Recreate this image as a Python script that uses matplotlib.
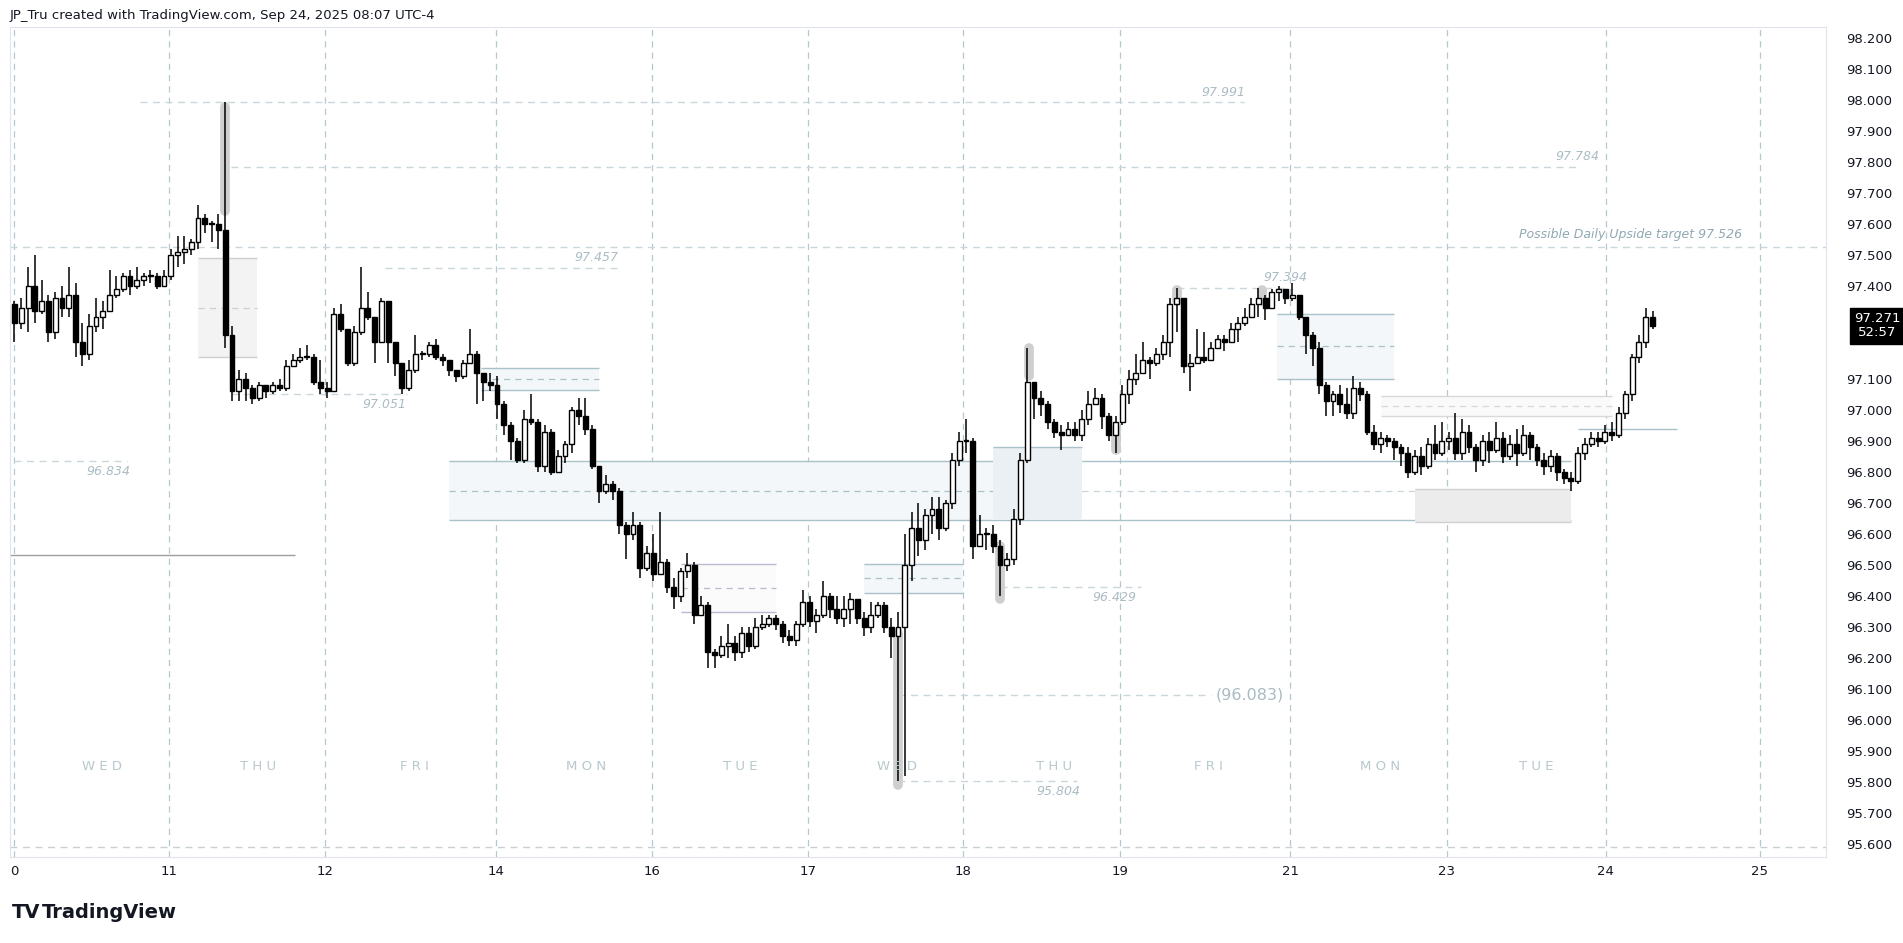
import matplotlib

matplotlib.use("Agg")
import matplotlib.pyplot as plt
import numpy as np

plt.rcParams["font.family"] = ["DejaVu Sans"]

# hourly bars: close, high, low (open = previous close)
FIRST_OPEN = 97.34
BARS = [
    (97.28, 97.35, 97.22), (97.33, 97.36, 97.26), (97.40, 97.46, 97.25), (97.32, 97.50, 97.28),
    (97.35, 97.42, 97.31), (97.25, 97.37, 97.22), (97.36, 97.38, 97.23), (97.33, 97.40, 97.30),
    (97.37, 97.46, 97.30), (97.22, 97.41, 97.17), (97.18, 97.28, 97.14), (97.27, 97.31, 97.16),
    (97.30, 97.36, 97.25), (97.32, 97.35, 97.26), (97.37, 97.45, 97.32), (97.39, 97.43, 97.36),
    (97.43, 97.44, 97.38), (97.40, 97.45, 97.37), (97.42, 97.46, 97.39), (97.43, 97.44, 97.40),
    (97.43, 97.45, 97.41), (97.40, 97.44, 97.39), (97.43, 97.45, 97.40),
    (97.50, 97.52, 97.42), (97.51, 97.56, 97.46), (97.52, 97.56, 97.47), (97.54, 97.55, 97.50),
    (97.62, 97.66, 97.52), (97.60, 97.63, 97.57), (97.60, 97.61, 97.54), (97.58, 97.63, 97.52),
    (97.24, 97.991, 97.20), (97.06, 97.27, 97.03), (97.10, 97.13, 97.03), (97.07, 97.12, 97.03),
    (97.04, 97.08, 97.02), (97.08, 97.09, 97.03), (97.06, 97.08, 97.04), (97.08, 97.09, 97.05),
    (97.07, 97.10, 97.06), (97.14, 97.16, 97.06), (97.16, 97.18, 97.14), (97.17, 97.20, 97.15),
    (97.17, 97.21, 97.16), (97.09, 97.18, 97.08), (97.07, 97.16, 97.05),
    (97.06, 97.09, 97.04), (97.31, 97.33, 97.06), (97.26, 97.34, 97.25), (97.15, 97.26, 97.14),
    (97.25, 97.27, 97.14), (97.33, 97.46, 97.24), (97.30, 97.38, 97.29), (97.22, 97.30, 97.15),
    (97.35, 97.36, 97.23), (97.22, 97.35, 97.15), (97.15, 97.22, 97.11), (97.07, 97.15, 97.05),
    (97.13, 97.16, 97.06), (97.18, 97.24, 97.12), (97.18, 97.19, 97.16), (97.21, 97.22, 97.17),
    (97.17, 97.23, 97.16), (97.16, 97.18, 97.14), (97.13, 97.16, 97.11), (97.11, 97.13, 97.09),
    (97.15, 97.16, 97.10), (97.18, 97.26, 97.15), (97.12, 97.19, 97.02),
    (97.09, 97.12, 97.03), (97.08, 97.12, 97.06), (97.02, 97.11, 96.97), (96.95, 97.03, 96.92),
    (96.90, 96.96, 96.84), (96.84, 96.91, 96.83), (96.97, 97.00, 96.83), (96.96, 97.05, 96.95),
    (96.82, 96.97, 96.80), (96.93, 96.95, 96.80), (96.80, 96.94, 96.79), (96.85, 96.87, 96.81),
    (96.89, 96.90, 96.83), (97.00, 97.01, 96.86), (96.98, 97.04, 96.95), (96.94, 97.04, 96.92),
    (96.82, 96.95, 96.81), (96.74, 96.82, 96.70), (96.76, 96.79, 96.73), (96.74, 96.77, 96.71),
    (96.63, 96.75, 96.60), (96.60, 96.64, 96.52), (96.63, 96.67, 96.58),
    (96.49, 96.64, 96.46), (96.54, 96.56, 96.48), (96.47, 96.60, 96.45), (96.51, 96.67, 96.48),
    (96.43, 96.52, 96.41), (96.40, 96.46, 96.36), (96.48, 96.49, 96.38), (96.50, 96.54, 96.46),
    (96.34, 96.51, 96.31), (96.37, 96.40, 96.34), (96.22, 96.38, 96.17), (96.21, 96.23, 96.17),
    (96.24, 96.27, 96.20), (96.25, 96.31, 96.20), (96.22, 96.27, 96.19), (96.28, 96.30, 96.20),
    (96.24, 96.30, 96.22), (96.30, 96.33, 96.23), (96.31, 96.34, 96.29), (96.33, 96.34, 96.30),
    (96.31, 96.34, 96.29), (96.27, 96.32, 96.25), (96.26, 96.29, 96.24),
    (96.31, 96.32, 96.24), (96.38, 96.42, 96.30), (96.32, 96.40, 96.30), (96.34, 96.36, 96.28),
    (96.40, 96.45, 96.33), (96.36, 96.41, 96.33), (96.33, 96.40, 96.31), (96.36, 96.40, 96.30),
    (96.39, 96.41, 96.31), (96.33, 96.39, 96.31), (96.30, 96.35, 96.27), (96.34, 96.38, 96.28),
    (96.37, 96.38, 96.33), (96.30, 96.38, 96.28), (96.27, 96.33, 96.20), (96.30, 96.35, 95.804),
    (96.50, 96.60, 95.82), (96.62, 96.67, 96.45), (96.58, 96.70, 96.53), (96.66, 96.68, 96.55),
    (96.68, 96.72, 96.60), (96.62, 96.72, 96.58), (96.70, 96.71, 96.61),
    (96.84, 96.86, 96.68), (96.90, 96.93, 96.82), (96.90, 96.97, 96.86), (96.56, 96.91, 96.52),
    (96.60, 96.66, 96.56), (96.60, 96.62, 96.55), (96.56, 96.63, 96.54), (96.50, 96.58, 96.40),
    (96.52, 96.54, 96.48), (96.65, 96.68, 96.50), (96.84, 96.86, 96.63), (97.09, 97.20, 96.83),
    (97.04, 97.08, 96.97), (97.02, 97.06, 96.98), (96.96, 97.03, 96.94), (96.93, 96.97, 96.91),
    (96.92, 96.95, 96.87), (96.94, 96.96, 96.92), (96.92, 96.96, 96.90), (96.97, 97.00, 96.90),
    (97.02, 97.06, 96.95), (97.04, 97.07, 97.02), (96.98, 97.05, 96.94),
    (96.92, 96.99, 96.90), (96.96, 96.98, 96.86), (97.05, 97.08, 96.95), (97.10, 97.13, 97.02),
    (97.12, 97.18, 97.08), (97.16, 97.22, 97.12), (97.15, 97.17, 97.10), (97.18, 97.20, 97.14),
    (97.22, 97.24, 97.16), (97.34, 97.36, 97.17), (97.36, 97.394, 97.25), (97.14, 97.36, 97.12),
    (97.15, 97.18, 97.06), (97.17, 97.26, 97.15), (97.16, 97.25, 97.15), (97.20, 97.22, 97.16),
    (97.23, 97.24, 97.20), (97.22, 97.24, 97.19), (97.26, 97.28, 97.22), (97.28, 97.30, 97.22),
    (97.30, 97.33, 97.27), (97.34, 97.36, 97.30), (97.36, 97.394, 97.30),
    (97.33, 97.37, 97.29), (97.38, 97.39, 97.33), (97.39, 97.40, 97.35), (97.36, 97.39, 97.34),
    (97.37, 97.41, 97.35), (97.30, 97.37, 97.29), (97.24, 97.30, 97.18), (97.20, 97.25, 97.14),
    (97.08, 97.22, 97.05), (97.03, 97.09, 96.98), (97.05, 97.06, 96.98), (97.02, 97.08, 96.99),
    (96.99, 97.07, 96.97), (97.07, 97.11, 96.97), (97.05, 97.09, 97.03), (96.93, 97.06, 96.92),
    (96.89, 96.95, 96.87), (96.91, 96.93, 96.86), (96.90, 96.92, 96.88), (96.88, 96.91, 96.84),
    (96.86, 96.89, 96.82), (96.80, 96.88, 96.78), (96.85, 96.87, 96.79),
    (96.82, 96.88, 96.79), (96.89, 96.91, 96.81), (96.86, 96.95, 96.84), (96.90, 96.96, 96.85),
    (96.91, 96.93, 96.87), (96.86, 96.99, 96.84), (96.93, 96.97, 96.84), (96.88, 96.95, 96.86),
    (96.84, 96.89, 96.80), (96.90, 96.92, 96.82), (96.87, 96.93, 96.83), (96.91, 96.96, 96.86),
    (96.85, 96.93, 96.83), (96.89, 96.92, 96.84), (96.86, 96.94, 96.82), (96.92, 96.95, 96.85),
    (96.88, 96.93, 96.84), (96.84, 96.89, 96.82), (96.82, 96.86, 96.79), (96.85, 96.87, 96.80),
    (96.80, 96.86, 96.77), (96.78, 96.81, 96.76), (96.77, 96.80, 96.74),
    (96.86, 96.88, 96.76), (96.89, 96.91, 96.84), (96.91, 96.93, 96.88), (96.90, 96.93, 96.88),
    (96.93, 96.95, 96.89), (96.92, 96.96, 96.90), (96.99, 97.01, 96.91), (97.05, 97.06, 96.97),
    (97.17, 97.18, 97.03), (97.22, 97.24, 97.15), (97.30, 97.33, 97.20), (97.271, 97.32, 97.26),
]

DAY_TICKS = [0, 22.7, 45.7, 70.9, 93.8, 116.8, 139.6, 162.7, 187.7, 210.7, 234.1, 256.8]
DAY_LABELS = ["0", "11", "12", "14", "16", "17", "18", "19", "21", "23", "24", "25"]
WEEKDAY_POS = [12.9, 35.9, 58.8, 84.1, 106.8, 129.8, 152.9, 175.7, 200.9, 223.9]
WEEKDAY_LABELS = ["WED", "THU", "FRI", "MON", "TUE", "WED", "THU", "FRI", "MON", "TUE"]
PRICE_TICKS = [95.6, 95.7, 95.8, 95.9, 96.0, 96.1, 96.2, 96.3, 96.4, 96.5, 96.6, 96.7, 96.8, 96.9,
               97.0, 97.1, 97.4, 97.5, 97.6, 97.7, 97.8, 97.9, 98.0, 98.1, 98.2]

# (price, x start, x end, label, label x)
LEVELS = [
    (97.991, 18.4, 180.9, "97.991", 177.9),
    (97.784, 31.8, 230.0, "97.784", 230.0),
    (97.457, 54.5, 88.9, "97.457", 85.7),
    (97.394, 171.0, 187.0, "97.394", 187.0),
    (97.051, 31.8, 57.7, "97.051", 54.5),
    (96.834, 0.0, 16.6, "96.834", 13.9),
    (96.429, 145.0, 165.7, "96.429", 161.8),
    (95.804, 130.0, 156.4, "95.804", 153.6),
]
LABEL_BELOW = {"97.051", "96.834", "96.429", "95.804"}

closes = np.array([b[0] for b in BARS])
highs = np.array([b[1] for b in BARS])
lows = np.array([b[2] for b in BARS])
opens = np.concatenate([[FIRST_OPEN], closes[:-1]])
idx = np.arange(len(BARS))

fig = plt.figure(figsize=(19.03, 9.43), dpi=100)
ax = fig.add_axes([0.0051, 0.0914, 0.9547, 0.8803])
ax.set_xlim(-0.7, 266.6)
ax.set_ylim(95.56, 98.235)

grid_c = "#b4c8cf"
for t in DAY_TICKS:
    ax.axvline(t, color=grid_c, lw=0.9, ls=(0, (5, 4)), zorder=0)


def box(x0, x1, y0, y1, fc, ec, mid=True, z=1):
    ax.fill_between([x0, x1], y0, y1, color=fc, zorder=z, lw=0)
    ax.hlines([y0, y1], x0, x1, color=ec, lw=1.0, zorder=z)
    if mid:
        ax.hlines((y0 + y1) / 2, x0, x1, color=ec, lw=0.9, ls=(0, (5, 4)), zorder=z)


box(64, 157, 96.645, 96.834, "#f4f7f9", "#a9c1c9")
ax.hlines([96.645, 96.834], 157, 229, color="#a9c1c9", lw=1.0, zorder=1)
ax.hlines(96.74, 157, 229, color="#c8d6db", lw=0.9, ls=(0, (5, 4)), zorder=1)
ax.fill_between([144, 157], 96.645, 96.88, color="#eaf0f3", zorder=1, lw=0)
ax.hlines(96.88, 144, 157, color="#a9c1c9", lw=1.0, zorder=1)
box(27, 35.7, 97.17, 97.49, "#f3f3f3", "#cfcfcf")
box(68.6, 86, 97.065, 97.135, "#f4f7f9", "#a9c1c9")
box(185.7, 203, 97.10, 97.31, "#f4f7f9", "#a9c1c9")
box(206, 229, 96.64, 96.744, "#ececec", "#d0d0d0", mid=False)
box(98, 112, 96.35, 96.505, "#fbfbfc", "#b9b9d0")
box(125, 139.5, 96.41, 96.505, "#f4f7f9", "#a9c1c9")
box(201, 235, 96.98, 97.045, "#fafafa", "#d8d8d8")
ax.hlines(96.94, 230, 244.6, color="#a9c1c9", lw=1.0, zorder=1)
ax.hlines(96.534, -0.7, 41.3, color="#9e9e9e", lw=1.0, zorder=1)

lvl_c = "#c9d6db"
ax.axhline(97.526, color=lvl_c, lw=1.0, ls=(0, (5, 4)), zorder=1)
ax.text(237.7, 97.545, "Possible Daily Upside target 97.526", color="#8fa9b2",
        fontsize=9, style="italic", ha="center", va="bottom")
ax.axhline(95.592, color="#c9d0d3", lw=1.0, ls=(0, (5, 4)), zorder=1)
for price, x0, x1, lab, lx in LEVELS:
    ax.hlines(price, x0, x1, color=lvl_c, lw=1.0, ls=(0, (5, 4)), zorder=1)
    below = lab in LABEL_BELOW
    ax.text(lx, price - 0.012 if below else price + 0.012, lab, color="#aabcc3",
            fontsize=9, style="italic", ha="center", va="top" if below else "bottom")
ax.hlines(96.083, 130, 176, color=lvl_c, lw=1.0, ls=(0, (5, 4)), zorder=1)
ax.text(181.8, 96.083, "(96.083)", color="#a9bcc4", fontsize=11.5, ha="center", va="center")

# highlight pills
for xp, y0, y1 in [(31, 97.64, 97.975), (130, 95.79, 96.28), (149.3, 97.11, 97.20),
                   (145, 96.39, 96.56), (162, 96.87, 96.94), (171, 97.35, 97.385),
                   (183.5, 97.35, 97.385)]:
    ax.plot([xp, xp], [y0, y1], color="#cfcfcf", lw=7, solid_capstyle="round", zorder=2)

# candles
ax.vlines(idx, lows, highs, color="black", lw=1.1, zorder=3)
up = closes >= opens
body = np.where(np.abs(closes - opens) < 0.004, 0.004, closes - opens)
ax.bar(idx[up], body[up], bottom=opens[up], width=0.72, color="white",
       edgecolor="black", lw=1.0, zorder=4)
ax.bar(idx[~up], body[~up], bottom=opens[~up], width=0.72, color="black",
       edgecolor="black", lw=1.0, zorder=4)

for p, lab in zip(WEEKDAY_POS, WEEKDAY_LABELS):
    ax.text(p, 95.85, " ".join(lab), color="#b8c8cd", fontsize=9.5,
            ha="center", va="center")

ax.set_xticks(DAY_TICKS)
ax.set_xticklabels(DAY_LABELS, fontsize=9.5, color="#131722")
ax.tick_params(axis="x", length=0, pad=6)
ax.yaxis.tick_right()
ax.set_yticks(PRICE_TICKS)
ax.set_yticklabels([f"{v:.3f}" for v in PRICE_TICKS], fontsize=9.5, color="#131722")
ax.tick_params(axis="y", length=0, pad=14)
for s in ax.spines.values():
    s.set_color("#e0e3eb")

ax.text(1.028, 97.271, "97.271\n52:57", transform=ax.get_yaxis_transform(), color="white",
        fontsize=9.5, ha="center", va="center", linespacing=1.1,
        bbox=dict(boxstyle="square,pad=0.35", fc="black", ec="black"), clip_on=False)

fig.text(0.005, 0.984, "JP_Tru created with TradingView.com, Sep 24, 2025 08:07 UTC-4",
         fontsize=9.5, color="#131722", va="center")
fig.text(0.006, 0.032, "TV", fontsize=14, fontweight="bold", color="#131722", va="center")
fig.text(0.022, 0.032, "TradingView", fontsize=14, fontweight="bold", color="#131722", va="center")

fig.savefig("out.png", dpi=100, facecolor="white")
